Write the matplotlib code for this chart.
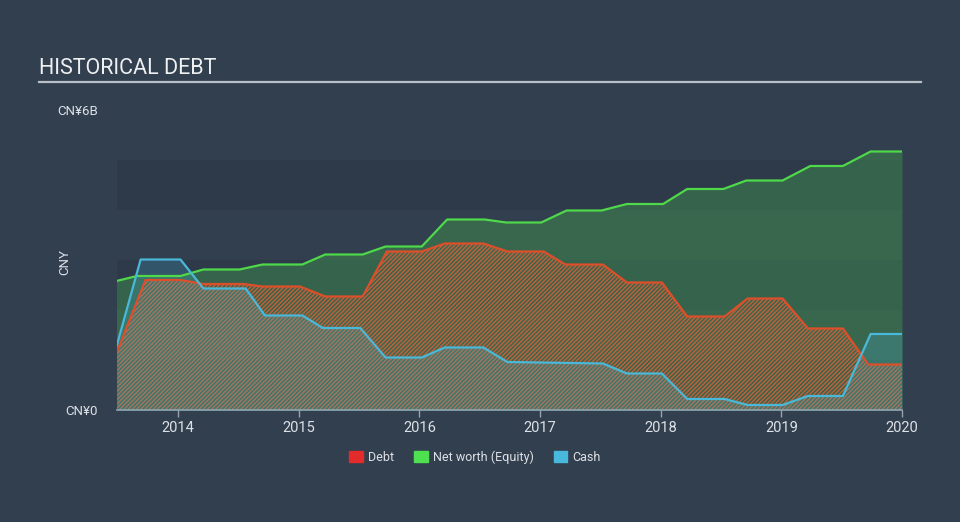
import numpy as np
import matplotlib
matplotlib.use("Agg")
import matplotlib.pyplot as plt
from matplotlib.patches import Patch

plt.rcParams['font.family'] = ['Roboto', 'DejaVu Sans']
plt.rcParams['hatch.linewidth'] = 1.1

# Values (decimal years, CNY billions)
equity_t = [2013.49, 2013.66, 2014.02, 2014.21, 2014.51, 2014.70, 2015.03, 2015.22,
            2015.53, 2015.72, 2016.02, 2016.23, 2016.54, 2016.72, 2017.01, 2017.22,
            2017.51, 2017.72, 2018.02, 2018.22, 2018.52, 2018.71, 2019.01, 2019.24,
            2019.51, 2019.74, 2020.0]
equity_v = [2.58, 2.68, 2.68, 2.81, 2.81, 2.91, 2.91, 3.11,
            3.11, 3.27, 3.27, 3.81, 3.81, 3.75, 3.75, 3.99,
            3.99, 4.12, 4.12, 4.42, 4.42, 4.59, 4.59, 4.88,
            4.88, 5.17, 5.17]

debt_t = [2013.49, 2013.73, 2014.02, 2014.21, 2014.54, 2014.70, 2015.01, 2015.22,
          2015.53, 2015.73, 2016.02, 2016.21, 2016.53, 2016.73, 2017.03, 2017.21,
          2017.52, 2017.72, 2018.01, 2018.22, 2018.53, 2018.72, 2019.01, 2019.22,
          2019.51, 2019.72, 2020.0]
debt_v = [1.14, 2.60, 2.60, 2.52, 2.52, 2.47, 2.47, 2.27,
          2.27, 3.17, 3.17, 3.33, 3.33, 3.17, 3.17, 2.91,
          2.91, 2.55, 2.55, 1.87, 1.87, 2.23, 2.23, 1.63,
          1.63, 0.91, 0.91]

cash_t = [2013.49, 2013.69, 2014.02, 2014.21, 2014.56, 2014.72, 2015.03, 2015.20,
          2015.51, 2015.72, 2016.02, 2016.21, 2016.53, 2016.73, 2017.0, 2017.52,
          2017.72, 2018.01, 2018.22, 2018.53, 2018.72, 2019.01, 2019.22, 2019.51,
          2019.74, 2020.0]
cash_v = [1.27, 3.01, 3.01, 2.43, 2.43, 1.89, 1.89, 1.64,
          1.64, 1.05, 1.05, 1.25, 1.25, 0.96, 0.95, 0.93,
          0.73, 0.73, 0.22, 0.22, 0.10, 0.10, 0.28, 0.28,
          1.52, 1.52]

years = [2014, 2015, 2016, 2017, 2018, 2019, 2020]
legend_labels = ["Debt", "Net worth (Equity)", "Cash"]

BG = '#323f4f'
fig = plt.figure(figsize=(9.6, 5.22), dpi=100, facecolor=BG)
ax = fig.add_axes([117/960, 1-410/522, (902-117)/960, 300/522])
ax.set_facecolor(BG)

# alternating background bands
for lo in (0, 2, 4):
    ax.axhspan(lo, lo+1, color='#2e3a4a', lw=0, zorder=0)

# equity area
ax.fill_between(equity_t, 0, equity_v, color='#4ee04e', alpha=0.25, lw=0, zorder=1)
# debt area (hatched)
ax.fill_between(debt_t, 0, debt_v, facecolor='none', edgecolor=(0.82, 0.38, 0.22, 0.85),
                hatch='////////', lw=0, zorder=2)
# cash area
ax.fill_between(cash_t, 0, cash_v, color='#48b9dc', alpha=0.22, lw=0, zorder=3)

ax.plot(equity_t, equity_v, color='#4fd94a', lw=1.6, zorder=4)
ax.plot(debt_t, debt_v, color='#dd4f2a', lw=1.6, zorder=5)
ax.plot(cash_t, cash_v, color='#4ab8d8', lw=1.6, zorder=6)

ax.set_xlim(2013.494, 2020.0)
ax.set_ylim(0, 6)
for s in ['top', 'right', 'left']:
    ax.spines[s].set_visible(False)
ax.spines['bottom'].set_color('#9aa3ad')
ax.spines['bottom'].set_linewidth(1.2)

ax.set_xticks(years)
ax.set_xticklabels([str(y) for y in years])
ax.tick_params(axis='x', colors='#9aa3ad', labelcolor='#dde1e6', labelsize=10.5,
               length=5, width=1, pad=3)
ax.set_yticks([0, 6])
ax.set_yticklabels(['CN¥0', 'CN¥6B'])
ax.tick_params(axis='y', length=0, labelcolor='#dde1e6', labelsize=9.5, pad=14)

fig.text(65/960, 1-262/522, 'CNY', rotation=90, color='#dde1e6', fontsize=9.5,
         ha='center', va='center')

# title and rule
fig.text(39/960, 1-69/522, 'HISTORICAL DEBT', color='#eef0f2', fontsize=15.5,
         ha='left', va='center')
fig.add_artist(plt.Line2D([39/960, 921/960], [1-82/522, 1-82/522],
                          color='#b8bec6', lw=1.6))

handles = [Patch(color='#e32b2b'), Patch(color='#4ee04e'), Patch(color='#48b9dc')]
leg = fig.legend(handles, legend_labels, loc='center', bbox_to_anchor=(475/960, 1-457/522),
                 ncol=3, frameon=False, fontsize=9, labelcolor='#dde1e6',
                 handlelength=1.1, handleheight=1.0, handletextpad=0.4, columnspacing=1.6)

fig.savefig('out.png', dpi=100, facecolor=BG)
